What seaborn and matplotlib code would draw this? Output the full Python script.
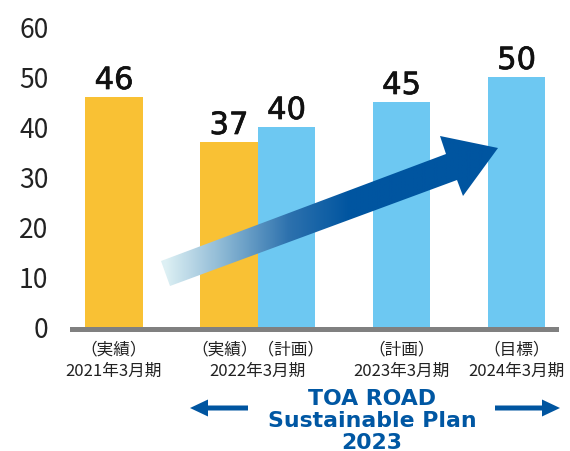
import numpy as np
import pandas as pd
import matplotlib
matplotlib.use('Agg')
import matplotlib.pyplot as plt
import matplotlib.patheffects as pe
import seaborn as sns
from matplotlib.patches import Polygon, FancyArrow
from matplotlib.colors import LinearSegmentedColormap

# ---- data ----
periods = ['2021年3月期', '2022年3月期', '2022年3月期', '2023年3月期', '2024年3月期']
kinds = ['実績', '実績', '計画', '計画', '目標']
values = [46, 37, 40, 45, 50]
yticks = [0, 10, 20, 30, 40, 50, 60]
plan_title = ['TOA ROAD', 'Sustainable Plan', '2023']

ORANGE = '#F9C134'
BLUE = '#6DC8F2'
GRAY = '#808080'
DARK = '#0055A0'
TBLUE = '#0057A3'

sns.set_theme(style='white')
plt.rcParams['font.family'] = ['Noto Sans CJK JP', 'DejaVu Sans']

# layout: bars of one period touch, gap between periods
pos = []
p = -1.0
prev = None
for per in periods:
    p += 0.5 + (0.5 if per != prev else 0.0)
    pos.append(p)
    prev = per

df = pd.DataFrame({'pos': pos, 'value': values, 'kind': kinds, 'period': periods})
palette = {'実績': ORANGE, '計画': BLUE, '目標': BLUE}

W, H = 570, 452
fig = plt.figure(figsize=(W / 100, H / 100), dpi=100)
ax = fig.add_axes([72 / W, (H - 330) / H, 484 / W, 312.5 / H])

sns.barplot(data=df, x='pos', y='value', hue='kind', palette=palette,
            native_scale=True, width=1.0, dodge=False, legend=False,
            saturation=1, linewidth=0, ax=ax)

ax.set_xlim(-0.365, 3.843)
ax.set_ylim(-0.5, 62)
for s in ['left', 'right', 'top']:
    ax.spines[s].set_visible(False)
ax.spines['bottom'].set_color(GRAY)
ax.spines['bottom'].set_linewidth(3.6)
ax.set_yticks(yticks)
ax.set_yticklabels([str(t) for t in yticks], fontsize=19, color='#222222')
ax.tick_params(axis='y', length=0, pad=17)
ax.set_xticks([])
ax.set_xlabel('')
ax.set_ylabel('')
ax.grid(False)

# value labels
for x, v in zip(pos, values):
    ax.annotate(str(v), (x, v), xytext=(0, 5.4), textcoords='offset points',
                ha='center', va='baseline', fontsize=22,
                family='DejaVu Sans', color='#111111',
                path_effects=[pe.withStroke(linewidth=0.5, foreground='#111111')])

# category labels (one line per period)
for per in dict.fromkeys(periods):
    xs = [x for x, pp in zip(pos, periods) if pp == per]
    ks = [k for k, pp in zip(kinds, periods) if pp == per]
    cx = np.mean(xs)
    ax.annotate(''.join(f'（{k}）' for k in ks), (cx, 0),
                xycoords=('data', 'axes fraction'),
                xytext=(0, -14.4), textcoords='offset points',
                ha='center', va='center', fontsize=12, color='#222222')
    ax.annotate(per, (cx, 0), xycoords=('data', 'axes fraction'),
                xytext=(0, -29.5), textcoords='offset points',
                ha='center', va='center', fontsize=12, color='#222222')

# overlay for decorations (pixel coordinates)
ov = fig.add_axes([0, 0, 1, 1], zorder=5)
ov.patch.set_alpha(0)
ov.axis('off')

arrow_pts = [(161, 262), (446, 155), (440, 137), (498, 149),
             (463, 197), (457, 181), (170, 287)]
poly = Polygon(arrow_pts, closed=True, facecolor='none', edgecolor='none')
ov.add_patch(poly)
cmap = LinearSegmentedColormap.from_list('g', ['#DDF0F4', '#86B4D2', '#2E72AE', DARK])
xs = np.linspace(150, 510, 512)
t = np.clip((xs - 165) / (350 - 165), 0, 1).reshape(1, -1)
im = ov.imshow(t, extent=(150, 510, 300, 120), cmap=cmap, vmin=0, vmax=1,
               aspect='auto', interpolation='bilinear')
im.set_clip_path(poly)

ov.add_patch(FancyArrow(248, 409, -58, 0, width=5, head_width=17, head_length=18,
                        length_includes_head=True, color=DARK, linewidth=0))
ov.add_patch(FancyArrow(495, 409, 65, 0, width=5, head_width=17, head_length=18,
                        length_includes_head=True, color=DARK, linewidth=0))

for line, yb in zip(plan_title, [405, 427.5, 449.5]):
    ov.text(372, yb, line, ha='center', va='baseline', fontsize=15.8,
            fontweight='bold', family='DejaVu Sans', color=TBLUE)

ov.set_xlim(0, W)
ov.set_ylim(H, 0)

fig.savefig('out.png', dpi=100)
